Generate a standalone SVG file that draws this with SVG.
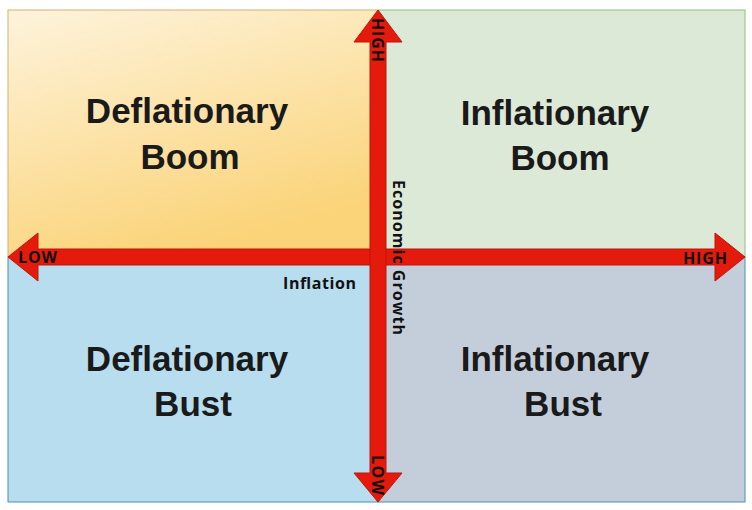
<svg xmlns="http://www.w3.org/2000/svg" width="752" height="510" viewBox="0 0 752 510">
<style>
.q{font-family:"Liberation Sans",Arial,sans-serif;font-weight:bold;font-size:35px;fill:#1a1a1a;text-anchor:middle}
.s{font-family:"Open Sans","DejaVu Sans",sans-serif;font-weight:bold;font-size:16px;fill:#111}
.ar{fill:#e31a0c;stroke:#c0150a;stroke-width:1}
</style>
<defs>
<linearGradient id="g1" x1="0" y1="0" x2="0.4" y2="1">
<stop offset="0" stop-color="#fdf3dc"/>
<stop offset="1" stop-color="#fbd47a"/>
</linearGradient>
</defs>
<rect width="752" height="510" fill="#fff"/>
<g id="q-deflationary-boom">
<rect x="8" y="10" width="370" height="247" fill="url(#g1)" stroke="#d8b070"/>
<text class="q" x="187" y="123">Deflationary</text>
<text class="q" x="190" y="169">Boom</text>
</g>
<g id="q-inflationary-boom">
<rect x="378" y="10" width="367" height="247" fill="#dce9d6" stroke="#8fbf7a"/>
<text class="q" x="555" y="125">Inflationary</text>
<text class="q" x="560" y="170">Boom</text>
</g>
<g id="q-deflationary-bust">
<rect x="8" y="257" width="370" height="245" fill="#b8ddef" stroke="#4a90b0"/>
<text class="q" x="187" y="371">Deflationary</text>
<text class="q" x="193" y="416">Bust</text>
</g>
<g id="q-inflationary-bust">
<rect x="378" y="257" width="367" height="245" fill="#c4ceda" stroke="#4a90b0"/>
<text class="q" x="555" y="371">Inflationary</text>
<text class="q" x="563" y="416">Bust</text>
</g>
<g id="connectors">
<polygon class="ar" points="8,257 38,233 38,249 715,249 715,233 745,257 715,281 715,265 38,265 38,281"/>
<polygon class="ar" points="378,10 402,42 386,42 386,473 402,473 378,502 354,473 370,473 370,42 354,42"/>
<text class="s" x="18" y="263" textLength="39">LOW</text>
<text class="s" x="683" y="264" textLength="44">HIGH</text>
<text class="s" x="283" y="289" textLength="73">Inflation</text>
<text class="s" transform="translate(372,18) rotate(90)" textLength="44">HIGH</text>
<text class="s" transform="translate(372,455) rotate(90)" textLength="40">LOW</text>
<text class="s" transform="translate(393,180) rotate(90)" textLength="155">Economic Growth</text>
</g>
</svg>
